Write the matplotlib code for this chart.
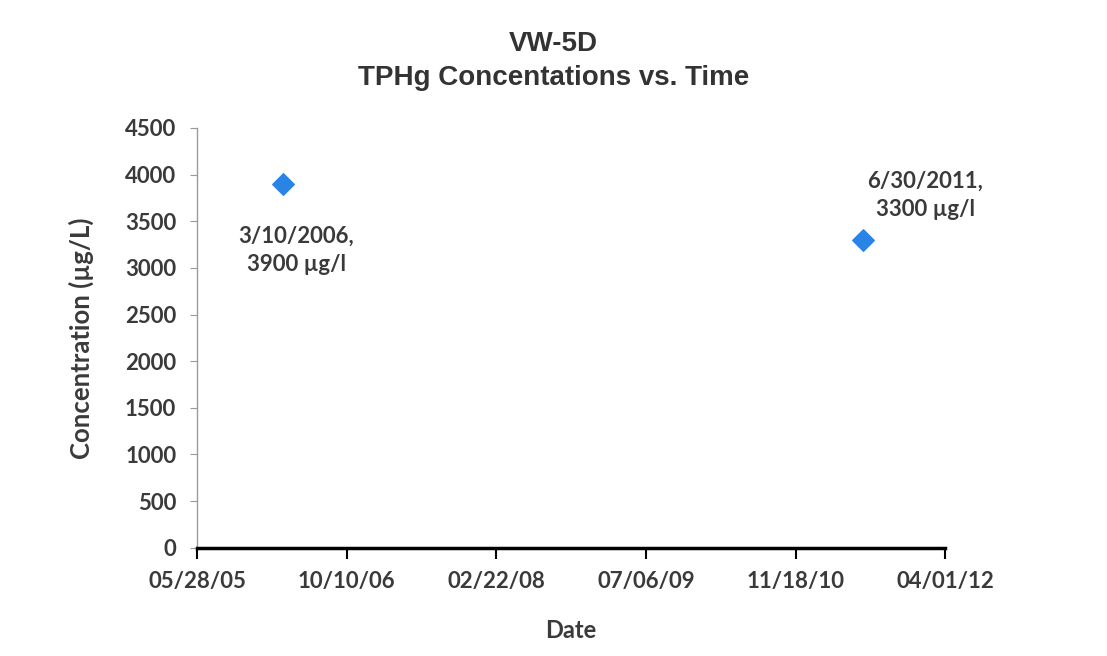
import datetime as dt
import matplotlib
matplotlib.use("Agg")
import matplotlib.pyplot as plt
import matplotlib.dates as mdates

# sample data
dates = [dt.date(2006, 3, 10), dt.date(2011, 6, 30)]
conc = [3900, 3300]
labels = ["3/10/2006,\n3900 µg/l", "6/30/2011,\n3300 µg/l"]
label_offsets = [(10, -48), (45, 32)]

start = dt.date(2005, 5, 28)
tick_dates = [start + dt.timedelta(days=500 * i) for i in range(6)]
y_ticks = list(range(0, 4501, 500))

txt = "#3a3a3a"
plt.rcParams["font.family"] = ["Lato", "DejaVu Sans"]
plt.rcParams["font.weight"] = "bold"

fig = plt.figure(figsize=(11.07, 6.56), dpi=100)
ax = fig.add_axes([0.178, 0.165, 0.676, 0.64])

ax.scatter(dates, conc, marker="D", s=120, color="#2a84e6", zorder=3)
for d, c, lab, off in zip(dates, conc, labels, label_offsets):
    ax.annotate(lab, (d, c), xytext=off, textcoords="offset points",
                ha="center", va="center", fontsize=16, color=txt,
                fontweight="bold", linespacing=1.45)

ax.set_xlim(tick_dates[0], tick_dates[-1])
ax.set_ylim(0, 4500)
ax.set_xticks(tick_dates)
ax.xaxis.set_major_formatter(mdates.DateFormatter("%m/%d/%y"))
ax.set_yticks(y_ticks)

for s in ["top", "right"]:
    ax.spines[s].set_visible(False)
ax.spines["left"].set_color("#9a9a9a")
ax.spines["left"].set_linewidth(1)
ax.spines["bottom"].set_color("black")
ax.spines["bottom"].set_linewidth(2.5)
ax.tick_params(axis="y", colors="#9a9a9a", labelcolor=txt, labelsize=16, length=5, pad=10)
ax.tick_params(axis="x", colors="black", labelcolor=txt, labelsize=16, length=8, width=1.5, pad=9)

ax.set_xlabel("Date", fontsize=17, color=txt, labelpad=19, fontweight="bold")
ax.set_ylabel("Concentration (µg/L)", fontsize=18.5, color=txt, labelpad=22, fontweight="bold")
fig.suptitle("VW-5D\nTPHg Concentations vs. Time", y=0.952, fontsize=20,
             fontweight="bold", family="Liberation Sans", color="#333333", linespacing=1.4)

fig.savefig("out.png", dpi=100)
